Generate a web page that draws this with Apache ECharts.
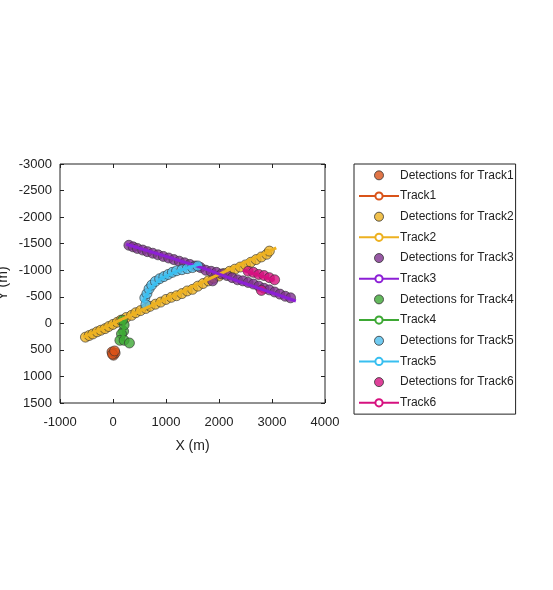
<!DOCTYPE html><html><head><script src="https://cdn.jsdelivr.net/npm/echarts@6/dist/echarts.min.js"></script></head><body style="margin:0"><div id="c" style="width:553px;height:590px"></div><script>
const names=['Track1','Track2','Track3','Track4','Track5','Track6'];
const colors=['#D95319','#EDB120','#7E2F8E','#3DA834','#4DBEEE','#D6117F'];
const colorsLine=['#D95319','#EDB120','#8C1FD6','#3DA834','#38BFF0','#D6117F'];
const det1=[[-20,540],[10,600],[40,560],[-10,580],[30,520]];
const det2=[[-520,260],[-450,230],[-380,200],[-300,160],[-230,130],[-150,100],[-80,60],[0,20],[80,-20],[150,-60],[250,-110],[350,-150],[430,-200],[520,-240],[620,-280],[700,-320],[800,-360],[900,-400],[1000,-450],[1100,-490],[1200,-520],[1300,-560],[1400,-610],[1500,-640],[1600,-700],[1700,-750],[1800,-800],[1900,-850],[2000,-890],[2100,-940],[2200,-980],[2300,-1020],[2400,-1060],[2500,-1100],[2600,-1150],[2700,-1200],[2800,-1250],[2900,-1300],[2950,-1360]];
const det3=[[300,-1470],[380,-1440],[460,-1410],[560,-1380],[650,-1350],[750,-1320],[850,-1290],[950,-1260],[1050,-1230],[1150,-1200],[1250,-1170],[1350,-1140],[1450,-1110],[1550,-1080],[1650,-1050],[1750,-1000],[1850,-980],[1950,-960],[2050,-930],[1880,-800],[2150,-900],[2250,-860],[2350,-820],[2450,-800],[2550,-770],[2650,-740],[2750,-700],[2850,-660],[2950,-630],[3050,-590],[3150,-550],[3250,-510],[3350,-480]];
const det4=[[200,150],[210,30],[180,-60],[160,200],[130,320],[210,320],[310,370]];
const det5=[[600,-480],[640,-560],[680,-650],[730,-720],[800,-790],[880,-840],[960,-880],[1040,-920],[1120,-960],[1200,-990],[1300,-1010],[1400,-1030],[1500,-1050],[1600,-1080],[620,-350]];
const det6=[[2550,-980],[2650,-960],[2750,-920],[2850,-900],[2950,-860],[3050,-820],[2800,-620]];
const line1=[[0,520],[20,580]];
const line2=[[-560,260],[3080,-1420]];
const line3=[[250,-1490],[1000,-1260],[1700,-1040],[2400,-780],[3450,-420]];
const line4=[[210,-60],[200,150],[180,330]];
const line5=[[560,-400],[700,-650],[900,-840],[1200,-980],[1650,-1120]];
const line6=[[2450,-1000],[3050,-810]];
const dets=[det1,det2,det3,det4,det5,det6], lines=[line1,line2,line3,line4,line5,line6];
const series=[],legend=[];
for(let i=0;i<6;i++){
 series.push({name:'Detections for '+names[i],type:'scatter',data:dets[i],symbolSize:10,itemStyle:{color:colors[i],borderColor:'#333',borderWidth:0.8}});
 series.push({name:names[i],type:'line',data:lines[i],showSymbol:false,lineStyle:{color:colorsLine[i],width:3},itemStyle:{color:colorsLine[i]}});
 legend.push({name:'Detections for '+names[i],icon:'circle',itemStyle:{borderColor:'#333',borderWidth:1}});
 legend.push({name:names[i]});
}
const ax={axisLine:{show:false,onZero:false},axisTick:{inside:true,length:4,lineStyle:{color:'#222'}},splitLine:{show:false}};
const fmt=v=>String(v);
const c=echarts.init(document.getElementById('c'));
c.setOption({animation:false,
grid:{left:60,top:164,width:265,height:239,show:true,borderColor:'#222',borderWidth:1,containLabel:false,outerBoundsMode:'none'},
legend:{orient:'vertical',left:354,top:164,width:163,itemGap:0,itemWidth:40,itemHeight:9,padding:[1,2,1,4],borderColor:'#222',borderWidth:1,textStyle:{fontSize:12,lineHeight:14,color:'#222',fontFamily:'Liberation Sans',padding:[0,0,0,-4]},data:legend},
xAxis:[Object.assign({type:'value',min:-1000,max:4000,interval:1000,name:'X (m)',nameLocation:'middle',nameGap:26,nameTextStyle:{fontSize:14,color:'#222',fontFamily:'Liberation Sans'},axisLabel:{fontSize:13,color:'#222',fontFamily:'Liberation Sans',formatter:fmt}},ax),
Object.assign({type:'value',position:'top',min:-1000,max:4000,interval:1000,axisLabel:{show:false}},ax)],
yAxis:[Object.assign({type:'value',inverse:true,min:-3000,max:1500,interval:500,name:'Y (m)',nameLocation:'middle',nameGap:44,nameTextStyle:{fontSize:14,color:'#222',fontFamily:'Liberation Sans'},axisLabel:{fontSize:13,color:'#222',fontFamily:'Liberation Sans',formatter:fmt}},ax),
Object.assign({type:'value',position:'right',inverse:true,min:-3000,max:1500,interval:500,axisLabel:{show:false}},ax)],
series});
</script></body></html>
